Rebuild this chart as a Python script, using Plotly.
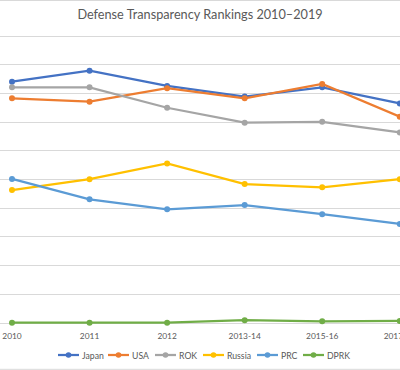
import plotly.graph_objects as go

# ---- data ----
periods = ["2010", "2011", "2012", "2013-14", "2015-16", "2017-18"]
japan = [84.1, 87.9, 82.6, 78.9, 82.1, 76.5]
usa = [78.3, 77.1, 81.8, 78.3, 83.3, 71.9]
rok = [82.1, 82.1, 75.0, 69.8, 70.1, 66.4]
russia = [46.3, 50.1, 55.6, 48.4, 47.3, 50.1]
prc = [50.2, 43.1, 39.6, 41.1, 37.9, 34.5]
dprk = [0.1, 0.1, 0.1, 1.0, 0.6, 0.7]

series_names = ["Japan", "USA", "ROK", "Russia", "PRC", "DPRK"]
series_values = [japan, usa, rok, russia, prc, dprk]
colors = ["#4472C4", "#ED7D31", "#A5A5A5", "#FFC000", "#5B9BD5", "#70AD47"]

W, H = 400, 370
ML, MR, MT, MB = 0, 0, 30, 44
plot_h = H - MT - MB
FONT = "Lato"
GRID = "#D9D9D9"
TXT = "#595959"

def py(pixel_y):
    return (H - MB - pixel_y) / plot_h

fig = go.Figure()
for name, vals, c in zip(series_names, series_values, colors):
    fig.add_trace(go.Scatter(
        x=periods, y=vals, name=name, mode="lines+markers",
        line=dict(color=c, width=2.25),
        marker=dict(color=c, size=6, symbol="circle"),
        showlegend=False, hoverinfo="skip",
    ))

# manual legend (Excel-style short line with marker)
leg_x = [58, 108, 155, 203, 257, 303]
leg_y = py(355)
shapes = []
annotations = []
for name, c, lx in zip(series_names, colors, leg_x):
    shapes.append(dict(type="line", xref="paper", yref="paper",
                       x0=lx / W, x1=(lx + 21) / W, y0=leg_y, y1=leg_y,
                       line=dict(color=c, width=2.25)))
    shapes.append(dict(type="circle", xref="paper", yref="paper",
                       x0=(lx + 10.5 - 2.8) / W, x1=(lx + 10.5 + 2.8) / W,
                       y0=leg_y - 2.8 / plot_h, y1=leg_y + 2.8 / plot_h,
                       fillcolor=c, line=dict(color=c, width=0)))
    annotations.append(dict(text=name, xref="paper", yref="paper",
                            x=(lx + 22) / W, y=leg_y, xanchor="left", yanchor="middle",
                            showarrow=False, font=dict(family=FONT, size=8.7, color=TXT)))

# chart border lines (top and bottom, cropped chart)
for pyx in (0.5, 369.3):
    shapes.append(dict(type="line", xref="paper", yref="paper", x0=-0.1, x1=1.1,
                       y0=py(pyx), y1=py(pyx), line=dict(color=GRID, width=1), layer="below"))

# x range so that category 0 sits at x=12px and the last category at the right edge
x1 = 5.003
step = (400 - 12) / x1
x0 = -12 / step

fig.update_layout(
    width=W, height=H,
    margin=dict(l=ML, r=MR, t=MT, b=MB, pad=0, autoexpand=False),
    paper_bgcolor="white", plot_bgcolor="white",
    title=dict(text="Defense Transparency Rankings 2010\u20132019",
               x=0.5, xanchor="center", y=1 - 15 / H, yanchor="middle",
               font=dict(family=FONT, size=12.7, color=TXT)),
    xaxis=dict(type="category", range=[x0, x1], showgrid=False, zeroline=False,
               showline=False, ticks="", automargin=False, ticklabelstandoff=4,
               tickfont=dict(family=FONT, size=8.4, color=TXT)),
    yaxis=dict(range=[-3 / 2.87, 100 + 6 / 2.87], dtick=10, tick0=0, showgrid=True,
               gridcolor=GRID, gridwidth=1, zeroline=False, showline=False,
               showticklabels=False, ticks="", automargin=False),
    shapes=shapes,
    annotations=annotations,
    showlegend=False,
    hovermode=False,
)

fig.write_html("out.html", config={"displayModeBar": False, "staticPlot": True},
               post_script="document.body.style.margin='0';document.body.style.overflow='hidden';")
